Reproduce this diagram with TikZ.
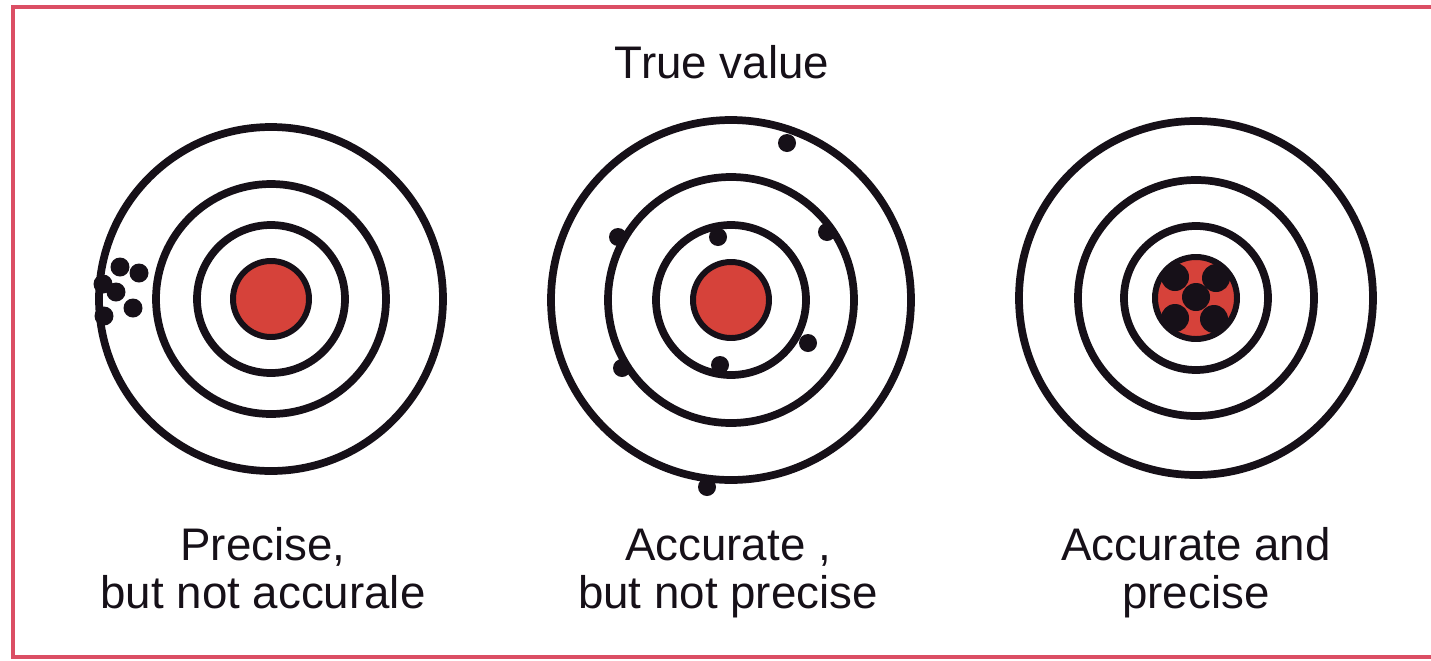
\documentclass[tikz,border=0pt]{standalone}
\usepackage{fontspec}
\setmainfont{Liberation Sans}
\usetikzlibrary{positioning}
\definecolor{FrameRed}{RGB}{219,78,100}
\definecolor{BullRed}{RGB}{214,66,58}
\definecolor{Ink}{RGB}{22,16,24}
\tikzset{
  ring/.style={circle,draw=Ink,line width=4.4pt,inner sep=0pt,outer sep=0pt,minimum size={2*#1*0.02cm}},
  bull/.style={circle,draw=Ink,line width=3.4pt,fill=BullRed,inner sep=0pt,minimum size={2*#1*0.02cm}},
  hit/.style={circle,fill=Ink,inner sep=0pt,minimum size={2*#1*0.02cm}},
  caption/.style={font=\fontsize{26}{27}\selectfont,text=Ink,align=center}
}

\begin{document}
\begin{tikzpicture}[x=0.02cm,y=-0.02cm]
  \useasboundingbox (0,0) rectangle (1431,660);
  \draw[FrameRed,line width=2.8pt] (1440,7)--(13,7)--(13,657)--(1440,657);
  \node[caption] (truevalue) at (722,62) {True value};
  % left target
  \node[ring=172] (outL) at (271,299) {};
  \node[ring=115] (midL) at (outL.center) {};
  \node[ring=74] (inL) at (outL.center) {};
  \node[bull=38] (bullL) at (outL.center) {};
  \foreach \x/\y in {120/267,139/273,103/284,116/292,133/308,104/316}{\node[hit=9.5] at (\x,\y) {};}
  % middle target
  \node[ring=180] (outM) at (731,300) {};
  \node[ring=123] (midM) at (outM.center) {};
  \node[ring=75] (inM) at (outM.center) {};
  \node[bull=38] (bullM) at (outM.center) {};
  \foreach \x/\y in {787/143,618/237,718/237,827/232,808/343,720/365,622/368,707/487}{\node[hit=9] at (\x,\y) {};}
  % right target
  \node[ring=177] (outR) at (1196,298) {};
  \node[ring=118] (midR) at (outR.center) {};
  \node[ring=72] (inR) at (outR.center) {};
  \node[bull=41] (bullR) at (outR.center) {};
  \foreach \x/\y in {1196/297,1175/277,1216/278,1175/318,1214/319}{\node[hit=14] at (\x,\y) {};}
  \node[caption] (capL) at (263,575) {\strut Precise,\\\strut but not accurale};
  \node[caption] (capM) at (728,575) {\strut Accurate ,\\\strut but not precise};
  \node[caption] (capR) at (1196,575) {\strut Accurate and\\\strut precise};
\end{tikzpicture}
\end{document}
